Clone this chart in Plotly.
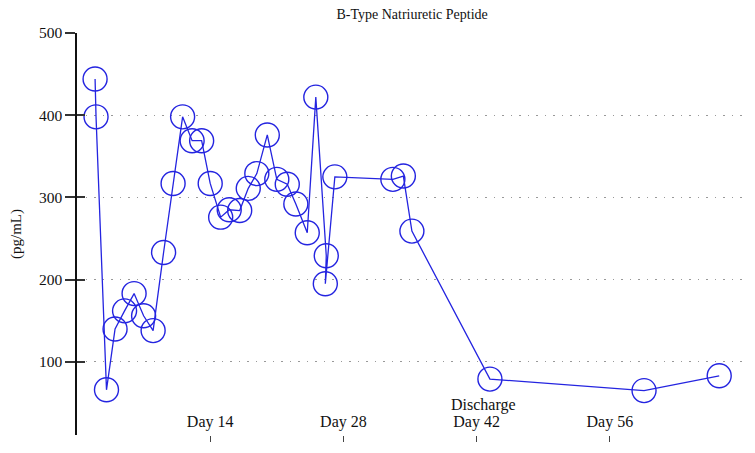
import plotly.graph_objects as go

# Data
days = [1.9, 2.0, 3.1, 4.0, 5.0, 6.0, 7.0, 8.0, 9.1, 10.1, 11.1, 12.1, 13.1, 14.0,
        15.1, 16.0, 17.1, 18.0, 18.9, 20.0, 21.0, 22.1, 23.0, 24.2, 25.1, 26.2,
        26.1, 27.1, 33.2, 34.3, 35.2, 43.4, 59.6, 67.5]
bnp = [444, 398, 66, 140, 162, 183, 156, 138, 233, 317, 398, 369, 369, 317,
       276, 285, 284, 311, 329, 376, 322, 316, 292, 257, 422, 229,
       195, 325, 322, 326, 259, 79, 65, 83]

x_tick_vals = [14, 28, 42, 56]
x_tick_text = ["Day 14", "Day 28", "Day 42", "Day 56"]
y_tick_vals = [100, 200, 300, 400, 500]
discharge_day = 42

BLUE = "#2424e0"
FONT = "Liberation Serif"

fig = go.Figure()
fig.add_trace(go.Scatter(
    x=days, y=bnp, mode="lines+markers",
    line=dict(color=BLUE, width=1.3),
    marker=dict(symbol="circle-open", size=24, color=BLUE, line=dict(width=1.4, color=BLUE)),
    showlegend=False, hoverinfo="x+y", cliponaxis=False,
))
# invisible trace to hold the inner tick axis
fig.add_trace(go.Scatter(x=[None], y=[None], yaxis="y2", showlegend=False, hoverinfo="skip"))

fig.update_layout(
    width=747, height=445,
    margin=dict(l=69, r=12, t=25, b=18, autoexpand=False),
    paper_bgcolor="white", plot_bgcolor="white",
    font=dict(family=FONT, color="#111"),
    title=dict(text="B-Type Natriuretic Peptide", x=0.541, xanchor="center",
               y=0.987, yanchor="middle", yref="container",
               font=dict(family=FONT, size=14, color="#111")),
    xaxis=dict(range=[0, 70], tickvals=x_tick_vals, ticktext=x_tick_text,
               ticks="outside", ticklen=6, tickwidth=1, tickcolor="#444",
               ticklabelposition="inside", ticklabelstandoff=2, automargin=False,
               tickfont=dict(family=FONT, size=16, color="#111"),
               showgrid=False, showline=False, zeroline=False),
    yaxis=dict(range=[11, 500], tickvals=y_tick_vals, automargin=False,
               ticks="outside", ticklen=10, tickwidth=2, tickcolor="#333",
               tickfont=dict(family=FONT, size=15.5, color="#111"),
               showline=True, linecolor="#111", linewidth=1.5,
               showgrid=True, gridcolor="#999", gridwidth=1.2, griddash="1.5px,7px",
               zeroline=False,
               title=dict(text="(pg/mL)", font=dict(family=FONT, size=15, color="#111"),
                          standoff=14)),
    yaxis2=dict(range=[11, 500], tickvals=y_tick_vals, overlaying="y", side="left",
                ticks="inside", ticklen=8, tickwidth=2, tickcolor="#333", automargin=False,
                showticklabels=False, showgrid=False, showline=False, zeroline=False),
    annotations=[dict(x=discharge_day, y=0, xref="x", yref="paper",
                      text="Discharge", showarrow=False, xanchor="center", yanchor="bottom",
                      xshift=7, yshift=19, font=dict(family=FONT, size=16, color="#111"))],
)

fig.write_html("out.html")
